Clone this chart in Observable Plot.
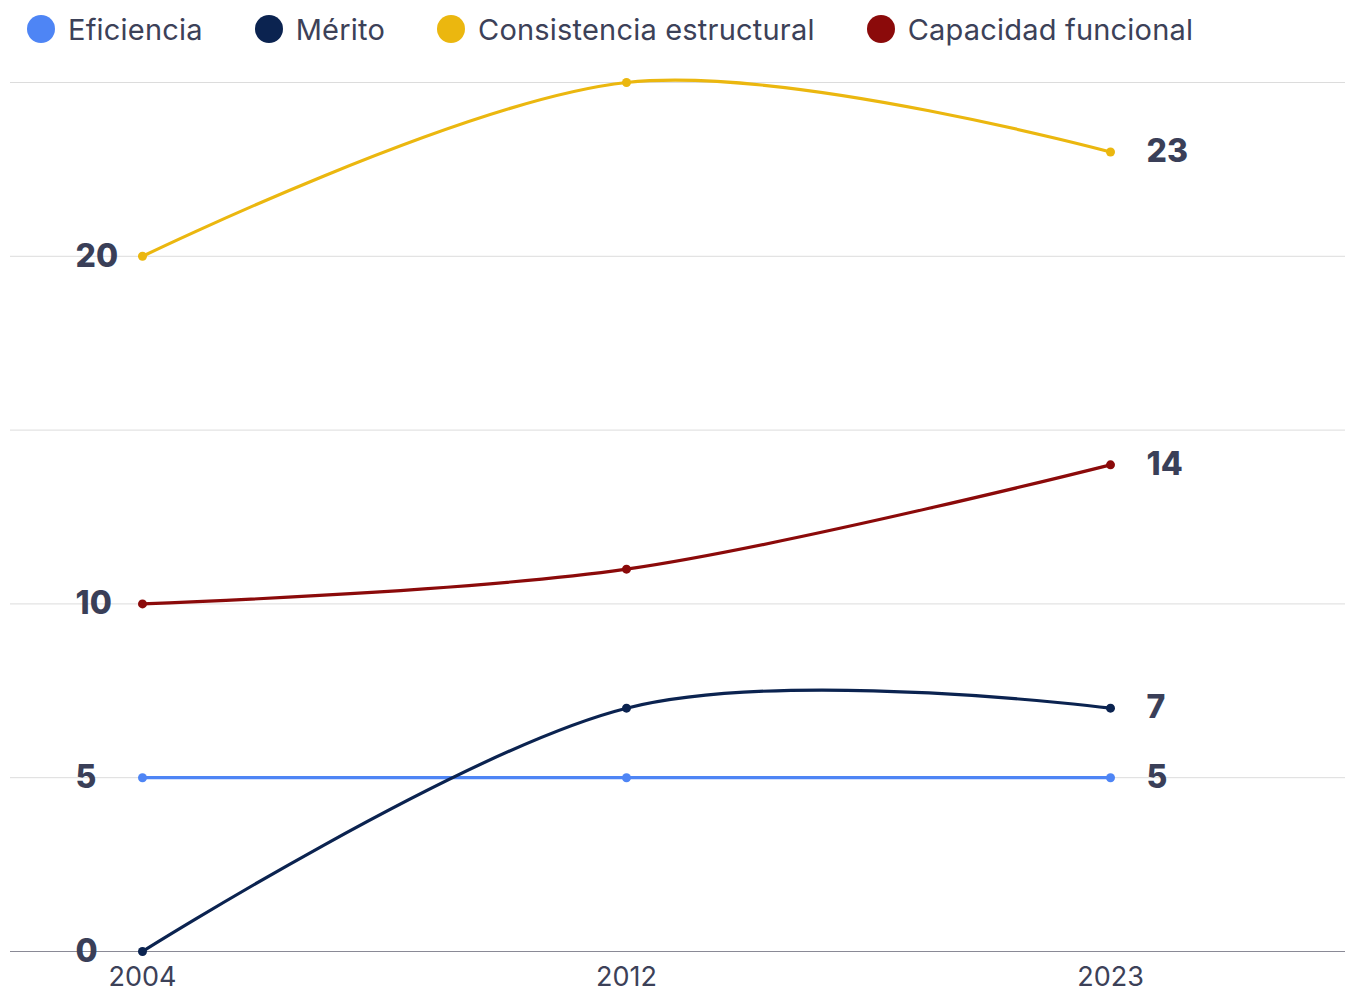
<!DOCTYPE html>
<html>
<head>
<meta charset="utf-8">
<script src="https://cdn.jsdelivr.net/npm/d3@7"></script>
<script src="https://cdn.jsdelivr.net/npm/@observablehq/plot@0.6"></script>
<style>
  html, body { margin: 0; padding: 0; background: #fff; }
  body { width: 1345px; height: 992px; overflow: hidden; font-family: Inter, "Noto Sans", sans-serif; }
  #legend { height: 58px; display: flex; align-items: center; padding-left: 27px; box-sizing: border-box; }
  .item { display: flex; align-items: center; margin-right: 52px; font-size: 29px; letter-spacing: 0.2px; color: #3c4158; }
  .sw { width: 28px; height: 28px; border-radius: 50%; margin-right: 13px; }
  #chart svg { display: block; }
</style>
</head>
<body>
<div id="legend"></div>
<div id="chart"></div>
<script>
const years = ["2004", "2012", "2023"];
const seriesNames = ["Eficiencia", "Mérito", "Consistencia estructural", "Capacidad funcional"];
const colors = ["#4e85f5", "#0b2350", "#ebb70f", "#8b0a0a"];
const eficiencia = [5, 5, 5];
const merito = [0, 7, 7];
const consistencia = [20, 25, 23];
const capacidad = [10, 11, 14];
const yTicks = [0, 5, 10, 15, 20, 25];

const values = [eficiencia, merito, consistencia, capacidad];
const data = [];
seriesNames.forEach((s, i) => years.forEach((y, j) => data.push({series: s, year: y, value: values[i][j]})));
const first = data.filter(d => d.year === years[0]);
const last = data.filter(d => d.year === years[years.length - 1]);

const legend = document.getElementById("legend");
seriesNames.forEach((s, i) => {
  const it = document.createElement("div");
  it.className = "item";
  it.innerHTML = `<span class="sw" style="background:${colors[i]}"></span><span>${s}</span>`;
  legend.appendChild(it);
});

const chart = Plot.plot({
  width: 1345,
  height: 934,
  marginTop: 24,
  marginBottom: 41,
  marginLeft: 10,
  marginRight: 0,
  style: {fontFamily: "Inter, 'Noto Sans', sans-serif", background: "#fff", overflow: "visible"},
  x: {type: "point", domain: years, range: [142, 1110], padding: 0, label: null},
  y: {domain: [0, 25], label: null, axis: null},
  color: {domain: seriesNames, range: colors},
  marks: [
    Plot.gridY(yTicks.filter(t => t > 0), {stroke: "#dcdcdc", strokeOpacity: 1, strokeWidth: 1}),
    Plot.ruleY([0], {stroke: "#8a8a96", strokeWidth: 1}),
    Plot.axisX({tickSize: 0, tickPadding: 15, fontSize: 27, fill: "#3c4158", label: null, style: {letterSpacing: "0.5px"}}),
    Plot.line(data, {x: "year", y: "value", z: "series", stroke: "series", strokeWidth: 3.2, curve: "cardinal"}),
    Plot.dot(data, {x: "year", y: "value", fill: "series", r: 4.5}),
    Plot.text(first, {x: "year", y: "value", text: d => String(d.value), textAnchor: "start", dx: -67, fontSize: 32, fontWeight: 800, fill: "#3a3f58"}),
    Plot.text(last, {x: "year", y: "value", text: d => String(d.value), textAnchor: "start", dx: 36, fontSize: 32, fontWeight: 800, fill: "#3a3f58"})
  ]
});
document.getElementById("chart").appendChild(chart);
</script>
</body>
</html>
